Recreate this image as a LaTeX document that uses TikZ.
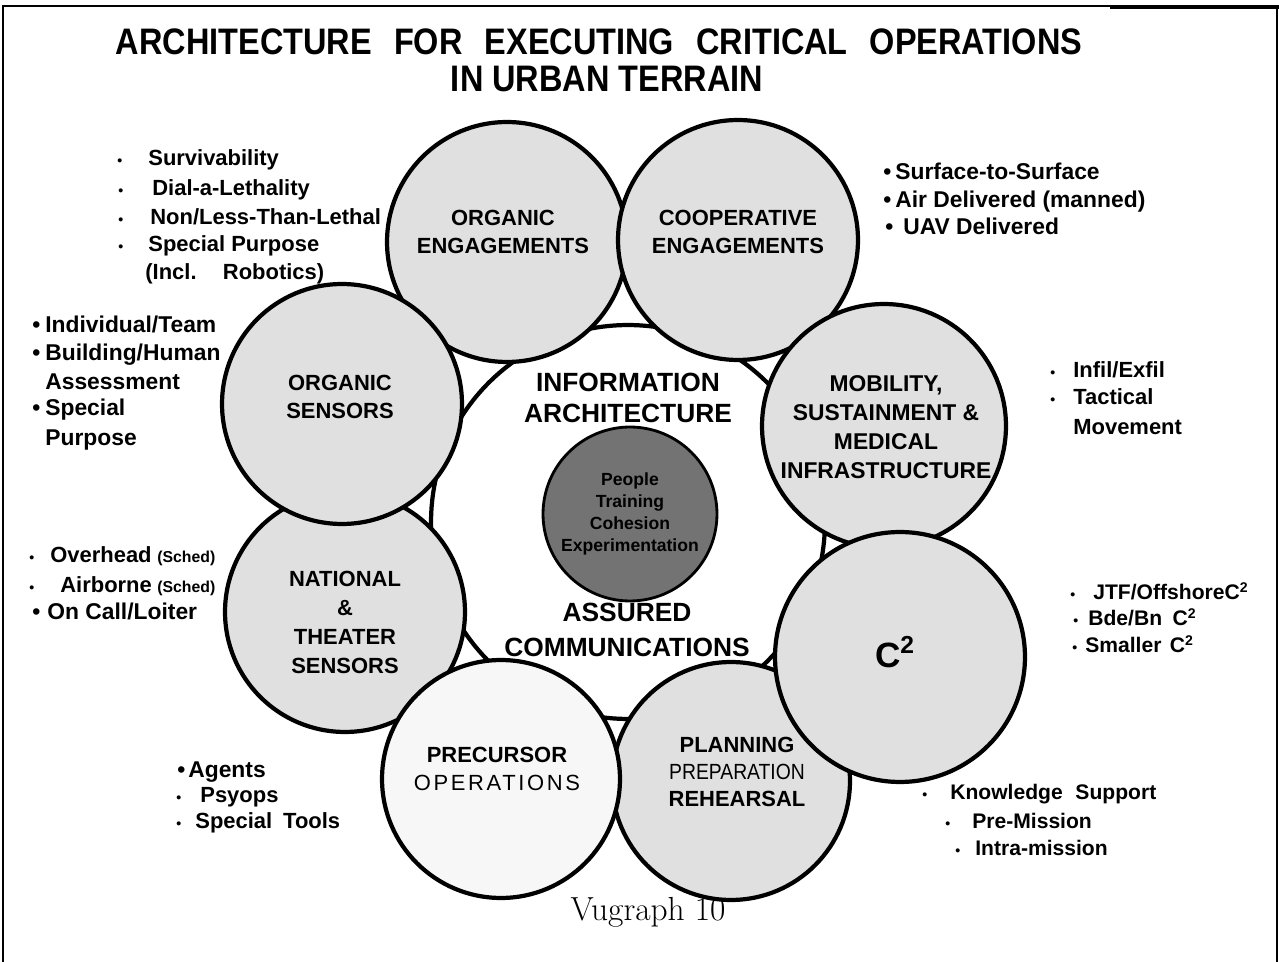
\documentclass[tikz,border=0pt]{standalone}
\usepackage{fontspec}
\newfontfamily\arial{Liberation Sans}
\newfontfamily\arialnarrow{Liberation Sans}[FakeStretch=0.88]
\newfontfamily\arialwide{Liberation Sans}[LetterSpace=12]
\newcommand{\fs}[2]{\fontsize{#1}{#2}\selectfont}
\tikzset{
  disc/.style={circle, draw, line width=2.4pt, fill=black!12, inner sep=0pt, minimum size=4.8cm},
  tag/.style={align=center, inner sep=0pt, font=\arial\bfseries\fs{12.5}{15.5}},
  item/.style={anchor=base west, inner sep=0pt, font=\arial\bfseries\fs{12.5}{14}},
  heavy/.style={item, font=\arial\bfseries\fs{13}{14}},
  bul/.style={anchor=base west, inner sep=0pt, font=\arial\bfseries\fs{8}{9}},
  bigbul/.style={bul, font=\arial\bfseries\fs{13}{14}},
}
\begin{document}
\begin{tikzpicture}[x=0.02cm, y=-0.02cm]
  \useasboundingbox (0,0) rectangle (1279,962);
  % frame
  \draw[line width=0.8pt] (3,962) -- (3,6) -- (1277,6) -- (1277,962);
  \draw[line width=2pt] (1110,7) -- (1279,7);
  % title
  \node[inner sep=0pt, font=\arialnarrow\bfseries\fs{21}{24}] (title) at (599,42)
    {ARCHITECTURE\hspace{.6em}FOR\hspace{.6em}EXECUTING\hspace{.6em}CRITICAL\hspace{.6em}OPERATIONS};
  \node[inner sep=0pt, font=\arialnarrow\bfseries\fs{21}{24}] (subtitle) at (607,79) {IN URBAN TERRAIN};

  % centre and ring of discs
  \node[circle, draw, line width=2.4pt, fill=white, minimum size=7.88cm] (info) at (628,522) {};
  \node[disc] (oe) at (507,242) {};
  \node[disc] (ce) at (738,240) {};
  \node[disc, minimum size=4.88cm] (mob) at (884,426) {};
  \node[disc, minimum size=4.76cm] (plan) at (731,781) {};
  \node[disc, minimum size=5cm] (c2) at (900,657) {};
  \node[disc] (nat) at (345,612) {};
  \node[disc, fill=black!3, minimum size=4.76cm] (pre) at (501,779) {};
  \node[disc] (os) at (342,404) {};
  \node[circle, draw, line width=1.6pt, fill=black!55, minimum size=3.48cm] (core) at (630,514) {};

  % disc labels
  \node[tag] (oe-txt) at ([shift={(-4,-10)}]oe.center) {ORGANIC\\ENGAGEMENTS};
  \node[tag] (ce-txt) at ([shift={(0,-8)}]ce.center) {COOPERATIVE\\ENGAGEMENTS};
  \node[tag] (os-txt) at ([shift={(-2,-7)}]os.center) {ORGANIC\\SENSORS};
  \node[tag, font=\arial\bfseries\fs{13}{16.5}] (mob-txt) at ([shift={(2,1)}]mob.center)
    {MOBILITY,\\SUSTAINMENT \&\\MEDICAL\\INFRASTRUCTURE};
  \node[tag, font=\arial\bfseries\fs{12.5}{16.5}] (nat-txt) at ([shift={(0,10)}]nat.center)
    {NATIONAL\\\&\\THEATER\\SENSORS};
  \node[tag, font=\arial\bfseries\fs{20}{22}] (c2-txt) at ([shift={(-5,-5)}]c2.center) {C\textsuperscript{2}};
  \node[tag, font=\arial\bfseries\fs{12.5}{16}] (pre-txt) at ([shift={(-4,-10)}]pre.center)
    {PRECURSOR\\{\arialwide\mdseries OPERATIONS}};
  \node[tag, font=\arial\bfseries\fs{12.5}{15.6}] (plan-txt) at ([shift={(6,-9)}]plan.center)
    {PLANNING\\{\arialnarrow\mdseries PREPARATION}\\REHEARSAL};
  \node[tag, font=\arial\bfseries\fs{10}{12.5}] (core-txt) at (core) {People\\Training\\Cohesion\\Experimentation};
  \node[tag, font=\arial\bfseries\fs{15}{18}] (ia) at (628,398) {INFORMATION\\ARCHITECTURE};
  \node[tag, font=\arial\bfseries\fs{15}{20}] (ac) at (627,630) {ASSURED\\COMMUNICATIONS};

  % organic engagements list
  \foreach \bx/\tx/\y/\t [count=\i] in {117/148/166/Survivability, 118/152/196/Dial-a-Lethality,
      118/150/225/{Non/Less-Than-Lethal}, 118/148/252/Special Purpose}
  {
    \node[bul] (oe-b\i) at (\bx,\y) {•};
    \node[item] (oe-t\i) at (\tx,\y) {\t};
  }
  \node[item] (oe-t5) at (145,280) {(Incl.\hspace{1.2em}Robotics)};

  % organic sensors list
  \foreach \y/\t [count=\i] in {333/{Individual/Team}, 361/{Building/Human}, 416/Special}
  {
    \node[bigbul] (os-b\i) at (32,\y) {•};
    \node[heavy] (os-t\i) at (45,\y) {\t};
  }
  \node[heavy] (os-t4) at (45,390) {Assessment};
  \node[heavy] (os-t5) at (45,446) {Purpose};

  % cooperative engagements list
  \foreach \bx/\tx/\y/\t [count=\i] in {883/895/180/Surface-to-Surface,
      883/895/208/Air Delivered (manned), 885/903/235/UAV Delivered}
  {
    \node[bigbul] (ce-b\i) at (\bx,\y) {•};
    \node[heavy] (ce-t\i) at (\tx,\y) {\t};
  }

  % mobility list
  \foreach \y/\t [count=\i] in {378/{Infil/Exfil}, 405/Tactical}
  {
    \node[bul] (mob-b\i) at (1050,\y) {•};
    \node[item] (mob-t\i) at (1073,\y) {\t};
  }
  \node[item] (mob-t3) at (1073,435) {Movement};

  % national sensors list
  \foreach \tx/\y/\t [count=\i] in {50/563/Overhead, 60/593/Airborne}
  {
    \node[bul] (nat-b\i) at (29,\y) {•};
    \node[item] (nat-t\i) at (\tx,\y) {\t};
    \node[item, font=\arial\bfseries\fs{9}{10}] (nat-s\i) at (157,\y) {(Sched)};
  }
  \node[bigbul] (nat-b3) at (32,620) {•};
  \node[heavy] (nat-t3) at (47,620) {On Call/Loiter};

  % c2 list
  \foreach \bx/\tx/\y/\t [count=\i] in {1070/1093/600/{JTF/OffshoreC\textsuperscript{2}},
      1073/1088/626/{Bde/Bn\hspace{.5em}C\textsuperscript{2}}, 1072/1085/653/{Smaller\hspace{.4em}C\textsuperscript{2}}}
  {
    \node[bul] (c2-b\i) at (\bx,\y) {•};
    \node[item, font=\arial\bfseries\fs{12}{14}] (c2-t\i) at (\tx,\y) {\t};
  }

  % precursor list
  \node[bigbul] (pre-b1) at (177,778) {•};
  \node[heavy] (pre-t1) at (188,778) {Agents};
  \foreach \tx/\y/\t [count=\i from 2] in {200/803/Psyops, 195/828/Special\hspace{.5em}Tools}
  {
    \node[bul] (pre-b\i) at (176,\y) {•};
    \node[item] (pre-t\i) at (\tx,\y) {\t};
  }

  % planning list
  \foreach \bx/\tx/\y/\t [count=\i] in {922/950/800/Knowledge\hspace{.6em}Support,
      945/972/828/Pre-Mission, 955/975/856/Intra-mission}
  {
    \node[bul] (plan-b\i) at (\bx,\y) {•};
    \node[item, font=\arial\bfseries\fs{12}{14}] (plan-t\i) at (\tx,\y) {\t};
  }

  \node[font=\fs{19}{22}] (vugraph) at (648,912) {Vugraph 10};
\end{tikzpicture}
\end{document}
